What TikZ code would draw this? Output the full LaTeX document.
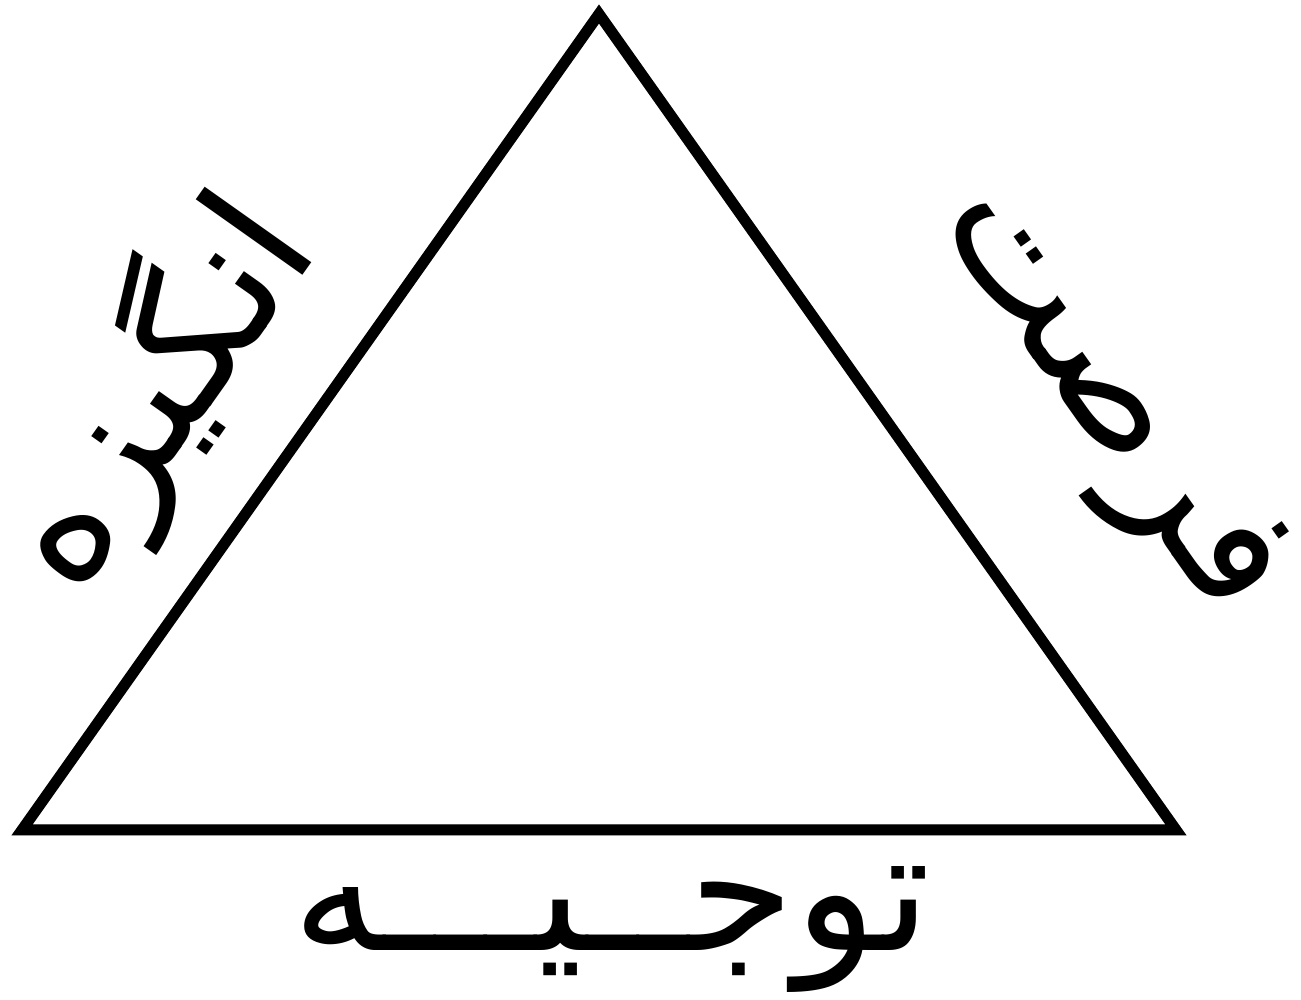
\documentclass[tikz,border=0pt]{standalone}
\usepackage{fontspec}
\newfontfamily\arabicfont[Script=Arabic]{DejaVu Sans}
\TeXXeTstate=1
\begin{document}
\begin{tikzpicture}[x=1pt,y=1pt,
  edge/.style={line width=11pt,line join=miter,miter limit=20},
  shadowedge/.style={edge,draw=black!14},
  word/.style={font=\arabicfont\fontsize{172}{200}\selectfont,inner sep=0pt}]
\useasboundingbox[fill=white] (0,0) rectangle (1301,1000);
\coordinate (A) at (599,986);
\coordinate (B) at (22,170);
\coordinate (C) at (1176,170);
\draw[shadowedge,shift={(-7,7)}] (A) -- (B) -- (C) -- cycle;
\draw[edge] (A) -- (B) -- (C) -- cycle;
\node[word] (bottom) at (612,70) {\beginR توجــیـــه\endR};
\node[word,rotate=54.7] (left) at (152,608) {\beginR انگیزه\endR};
\node[word,rotate=-54.7] (right) at (1105,598) {\beginR فرصت\endR};
\end{tikzpicture}
\end{document}
